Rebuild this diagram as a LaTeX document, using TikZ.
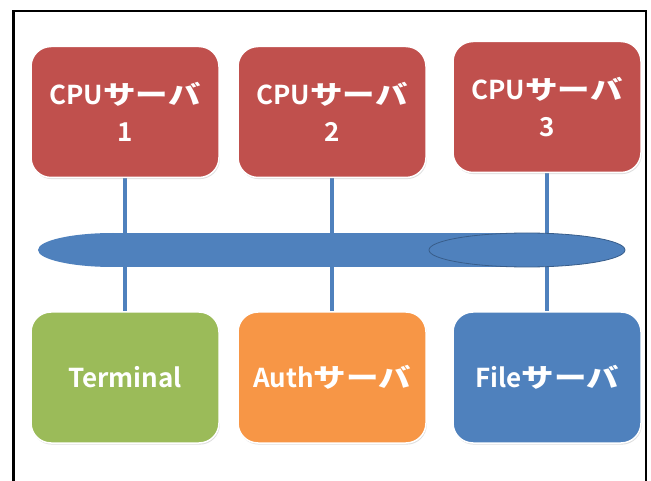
\documentclass[tikz,border=0pt]{standalone}
\usepackage{fontspec}
\newfontfamily\jpfont{Noto Sans CJK JP}[BoldFont={* Bold}]
\newfontfamily\kanafont{Noto Sans CJK JP Bold}[FakeStretch=1.25]
\newcommand{\kana}[1]{{\kanafont #1}}
\usetikzlibrary{shapes.geometric,shadows,backgrounds}

\definecolor{srvred}{HTML}{C0504D}
\definecolor{termgreen}{HTML}{9BBB59}
\definecolor{authorange}{HTML}{F79646}
\definecolor{fileblue}{HTML}{4F81BD}
\definecolor{busline}{HTML}{4F81BD}
\definecolor{busedge}{HTML}{385D8A}

\tikzset{
  srvbox/.style={rectangle, rounded corners=20pt, minimum width=188pt,
    minimum height=131pt, draw=white, line width=1.5pt,
    drop shadow={shadow xshift=0.8pt, shadow yshift=-1.6pt, opacity=0.25, fill=gray},
    text=white, align=center, inner sep=0pt,
    font=\jpfont\bfseries\fontsize{26}{37}\selectfont},
  link/.style={draw=busline, line width=4pt},
  busbody/.style={fill=busline, inner sep=0pt, minimum height=34pt},
}

\begin{document}
\begin{tikzpicture}[x=1pt,y=-1pt]
  \useasboundingbox (0,0) rectangle (651,481);

  % outer frame (open at the bottom)
  \draw[black, line width=2.2pt] (13.5,490) -- (13.5,11) -- (646,11) -- (646,490);

  % servers on the upper row
  \node[srvbox, fill=srvred] (cpu1) at (125,112) {CPU\kana{サーバ}\\1};
  \node[srvbox, fill=srvred] (cpu2) at (332,112) {CPU\kana{サーバ}\\2};
  \node[srvbox, fill=srvred] (cpu3) at (547,107) {CPU\kana{サーバ}\\3};

  % machines on the lower row
  \node[srvbox, fill=termgreen] (term) at (125,377.5) {Terminal};
  \node[srvbox, fill=authorange] (auth) at (332,377.5) {Auth\kana{サーバ}};
  \node[srvbox, fill=fileblue] (file) at (547,377.5) {File\kana{サーバ}};

  % network bus: rounded left end, flat body, outlined right end
  \node[busbody, ellipse, minimum width=150pt] (busleft) at (113,250) {};
  \node[busbody, rectangle, minimum width=414pt] (busmid) at (320,250) {};
  \node[busbody, ellipse, minimum width=196pt, draw=busedge, line width=0.8pt] (busend) at (527,250) {};

  % drops from each machine to the bus
  \begin{scope}[on background layer]
    \fill[white] (0,0) rectangle (651,481);
    \draw[link] (cpu1.south) -- (term.north);
    \draw[link] (cpu2.south) -- (auth.north);
    \draw[link] (cpu3.south) -- (file.north);
  \end{scope}
\end{tikzpicture}
\end{document}
